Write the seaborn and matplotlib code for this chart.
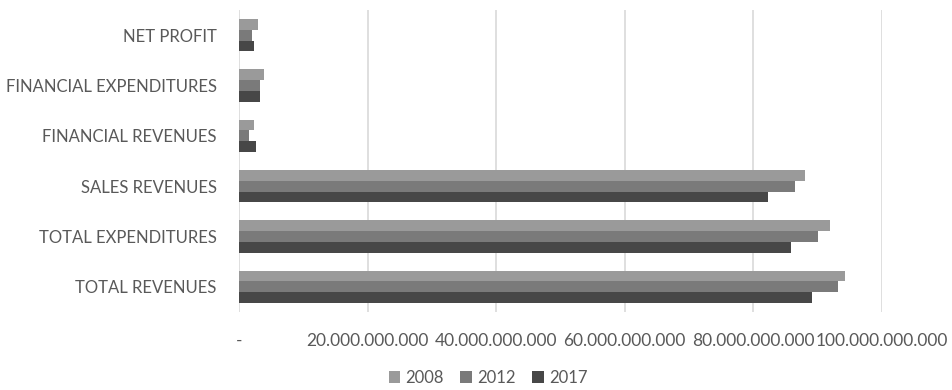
import pandas as pd
import matplotlib.pyplot as plt
import matplotlib.ticker as mticker
import seaborn as sns

# Datos (en miles de millones)
categorias = ['NET PROFIT', 'FINANCIAL EXPENDITURES', 'FINANCIAL REVENUES',
              'SALES REVENUES', 'TOTAL EXPENDITURES', 'TOTAL REVENUES']
anios = ['2008', '2012', '2017']
valores_2008 = [2.95, 3.9, 2.3, 88.0, 91.9, 94.3]
valores_2012 = [2.0, 3.3, 1.6, 86.5, 90.1, 93.2]
valores_2017 = [2.3, 3.3, 2.6, 82.3, 85.9, 89.1]
colores = ['#9a9a9a', '#7a7a7a', '#474747']

filas = []
for anio, vals in zip(anios, [valores_2008, valores_2012, valores_2017]):
    for cat, v in zip(categorias, vals):
        filas.append({'cat': cat, 'anio': anio, 'valor': v * 1e9})
df = pd.DataFrame(filas)

sns.set_style('white')
plt.rcParams['font.family'] = ['Lato', 'DejaVu Sans']

fig = plt.figure(figsize=(9.52, 3.9), dpi=100)
ax = fig.add_axes([239 / 952, 1 - 312 / 390, (882 - 239) / 952, 302 / 390])

sns.barplot(data=df, y='cat', x='valor', hue='anio', order=categorias,
            hue_order=anios, palette=colores, orient='h', width=0.64,
            saturation=1, linewidth=0, ax=ax)

ax.set_xlim(0, 100e9)
ax.set_xticks([0, 20e9, 40e9, 60e9, 80e9, 100e9])
ax.xaxis.set_major_formatter(mticker.FuncFormatter(
    lambda x, p: '-' if x == 0 else f'{int(x):,}'.replace(',', '.')))
ax.grid(axis='x', color='#d9d9d9', linewidth=1.2)
ax.set_axisbelow(True)
for s in ax.spines.values():
    s.set_visible(False)
ax.set_xlabel('')
ax.set_ylabel('')
ax.tick_params(axis='x', length=0, pad=15, labelsize=12.5, labelcolor='#595959')
ax.tick_params(axis='y', length=0, pad=16, labelsize=12, labelcolor='#595959')

ax.legend(loc='center', bbox_to_anchor=(488 / 952, 1 - 378 / 390),
          bbox_transform=fig.transFigure, ncol=3, frameon=False,
          handlelength=0.7, handleheight=0.7, handletextpad=0.3,
          columnspacing=1.0, labelcolor='#595959', fontsize=12)

fig.savefig('out.png', dpi=100)
